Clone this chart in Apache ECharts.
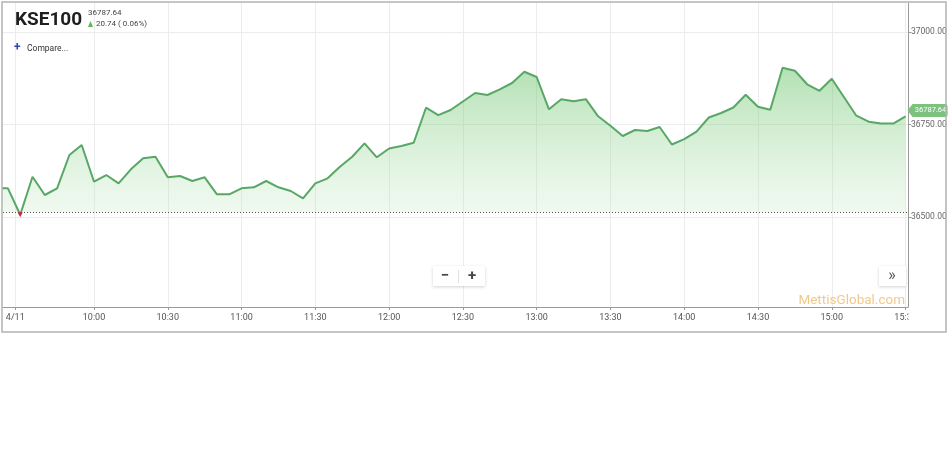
<!DOCTYPE html>
<html>
<head>
<meta charset="utf-8">
<script src="https://cdn.jsdelivr.net/npm/echarts@6/dist/echarts.min.js"></script>
<style>
html,body{margin:0;padding:0;background:#fff;}
#chart{width:950px;height:450px;}
</style>
</head>
<body>
<div id="chart"></div>
<script>
// ---- data ----
const times = ["09:20","09:25","09:30","09:35","09:40","09:45","09:50","09:55",
  "10:00","10:05","10:10","10:15","10:20","10:25","10:30","10:35","10:40","10:45","10:50","10:55",
  "11:00","11:05","11:10","11:15","11:20","11:25","11:30","11:35","11:40","11:45","11:50","11:55",
  "12:00","12:05","12:10","12:15","12:20","12:25","12:30","12:35","12:40","12:45","12:50","12:55",
  "13:00","13:05","13:10","13:15","13:20","13:25","13:30","13:35","13:40","13:45","13:50","13:55",
  "14:00","14:05","14:10","14:15","14:20","14:25","14:30","14:35","14:40","14:45","14:50","14:55",
  "15:00","15:05","15:10","15:15","15:20","15:25","15:30"];
const kse100 = [36577.6,36577.6,36506.0,36608.9,36559.5,36577.6,36667.6,36694.6,
  36595.4,36613.5,36591.1,36628.9,36658.7,36663.0,36607.3,36610.8,36597.3,36607.3,36561.4,36561.4,
  36577.6,36580.3,36597.3,36580.3,36570.3,36550.5,36591.1,36604.6,36636.0,36663.0,36699.2,36661.4,
  36685.2,36691.9,36700.8,36795.4,36775.2,36789.2,36812.2,36835.2,36829.8,36845.2,36862.2,36892.7,
  36878.4,36791.1,36818.4,36813.0,36818.4,36772.2,36746.8,36718.9,36735.2,36732.5,36743.3,36696.0,
  36710.3,36730.6,36769.0,36781.1,36796.0,36830.6,36798.1,36790.0,36903.5,36895.2,36858.7,36841.1,
  36873.8,36823.8,36773.8,36757.6,36752.5,36752.5,36772.0];
const lastPrice = 36787.64;
const change = "20.74";
const changePct = "0.06%";
const refLine = 36513;
const xTickTimes = ["09:28","10:00","10:30","11:00","11:30","12:00","12:30","13:00","13:30","14:00","14:30","15:00","15:30"];
const xTickLabels = ["4/11","10:00","10:30","11:00","11:30","12:00","12:30","13:00","13:30","14:00","14:30","15:00","15:30"];
const yTicks = [36500, 36750, 37000];

// ---- helpers ----
function toMin(t){ const p=t.split(":"); return (+p[0])*60 + (+p[1]); }
const seriesData = times.map((t,i)=>[toMin(t), kse100[i]]);
const xTickVals = xTickTimes.map(toMin);
const labelMap = {};
xTickVals.forEach((v,i)=>{ labelMap[v]=xTickLabels[i]; });
let minIdx = 0;
kse100.forEach((v,i)=>{ if(v<kse100[minIdx]) minIdx=i; });

const chart = echarts.init(document.getElementById('chart'), null, {renderer:'canvas'});
const option = {
  animation:false,
  backgroundColor:'#fff',
  grid:{left:3, right:42, top:3, bottom:143, containLabel:false},
  xAxis:{
    type:'value', min:563, max:931,
    axisLine:{show:true, lineStyle:{color:'#9a9a9a', width:1}},
    axisTick:{show:true, length:3, lineStyle:{color:'#9a9a9a'}, customValues:xTickVals},
    axisLabel:{customValues:xTickVals, color:'#555', fontSize:9, fontFamily:'Roboto', margin:6,
      formatter:(v)=>labelMap[v]!==undefined?labelMap[v]:''},
    splitLine:{show:true, lineStyle:{color:'#ececec', width:1}}
  },
  yAxis:{
    type:'value', position:'right', min:36256.8, max:37078.4, scale:true,
    axisLine:{show:true, lineStyle:{color:'#9a9a9a', width:1}},
    axisTick:{show:true, length:3, lineStyle:{color:'#9a9a9a'}, customValues:yTicks},
    axisLabel:{customValues:yTicks, color:'#666', fontSize:8.5, fontFamily:'Roboto', margin:3,
      formatter:(v)=>v.toFixed(2)},
    splitLine:{show:true, lineStyle:{color:'#ececec', width:1}}
  },
  series:[{
    type:'line',
    data:seriesData,
    showSymbol:false,
    clip:true,
    lineStyle:{color:'#58a766', width:2},
    areaStyle:{
      origin: refLine,
      color:new echarts.graphic.LinearGradient(0,0,0,1,[
        {offset:0, color:'rgba(105,195,105,0.72)'},
        {offset:1, color:'rgba(185,228,185,0.3)'}
      ])
    },
    markLine:{
      silent:true, symbol:['none','none'],
      label:{show:false},
      lineStyle:{type:[1,2], color:'#555', width:1},
      data:[{yAxis:refLine}]
    },
    markPoint:{
      silent:true,
      data:[
        {
          coord:[seriesData[minIdx][0], seriesData[minIdx][1]],
          symbol:'triangle', symbolRotate:180, symbolSize:[5,5],
          itemStyle:{color:'#cc2244'}, label:{show:false}
        },
        {
          coord:[seriesData[seriesData.length-1][0], lastPrice],
          symbol:'path://M0,5 L5,0 L38,0 Q40,0 40,2 L40,8 Q40,10 38,10 L5,10 Z',
          symbolSize:[40,13], symbolOffset:[22,0], symbolKeepAspect:false,
          itemStyle:{color:'#7cc27e'},
          label:{show:true, formatter:lastPrice.toFixed(2), color:'#fff', fontSize:7.5,
            fontFamily:'Roboto', offset:[3,0]}
        }
      ]
    }
  }],
  graphic:[
    {type:'rect', z:100, shape:{x:908.5, y:309, width:36, height:22}, style:{fill:'#fff'}},
    {type:'rect', z:101, shape:{x:2, y:2, width:944, height:330}, style:{fill:'none', stroke:'#b3b3b3', lineWidth:1.5}},
    {type:'text', z:101, x:15, y:11, style:{text:'KSE100', font:'bold 19px Roboto', fill:'#1e1e1e', textVerticalAlign:'top'}},
    {type:'text', z:101, x:88, y:9, style:{text:String(lastPrice.toFixed(2)), font:'8px Roboto', fill:'#444', textVerticalAlign:'top'}},
    {type:'polygon', z:101, shape:{points:[[88,27],[90.5,21],[93,27]]}, style:{fill:'#5cb85c'}},
    {type:'text', z:101, x:96, y:20, style:{text:change+' ( '+changePct+')', font:'8px Roboto', fill:'#444', textVerticalAlign:'top'}},
    {type:'text', z:101, x:14, y:42, style:{text:'+', font:'bold 12px Roboto', fill:'#2b4ea6', textVerticalAlign:'top'}},
    {type:'text', z:101, x:27, y:44, style:{text:'Compare...', font:'8.5px Roboto', fill:'#333', textVerticalAlign:'top'}},
    {type:'rect', z:101, shape:{x:433, y:266, width:52, height:20}, style:{fill:'#fff', shadowBlur:3, shadowColor:'rgba(0,0,0,0.18)', shadowOffsetY:1}},
    {type:'text', z:102, x:445, y:276, style:{text:'−', font:'bold 15px Roboto', fill:'#444', textAlign:'center', textVerticalAlign:'middle'}},
    {type:'line', z:102, shape:{x1:458.5, y1:270, x2:458.5, y2:283}, style:{stroke:'#e0e0e0', lineWidth:1}},
    {type:'text', z:102, x:472, y:276, style:{text:'+', font:'bold 15px Roboto', fill:'#444', textAlign:'center', textVerticalAlign:'middle'}},
    {type:'rect', z:101, shape:{x:879, y:266, width:27, height:20}, style:{fill:'#fff', shadowBlur:3, shadowColor:'rgba(0,0,0,0.18)', shadowOffsetY:1}},
    {type:'text', z:102, x:892, y:276, style:{text:'»', font:'16px Roboto', fill:'#555', textAlign:'center', textVerticalAlign:'middle'}},
    {type:'text', z:101, x:905, y:301, style:{text:'MettisGlobal.com', font:'13.5px Roboto', fill:'#f2c98a', textAlign:'right', textVerticalAlign:'middle'}}
  ]
};
chart.setOption(option);
</script>
</body>
</html>
